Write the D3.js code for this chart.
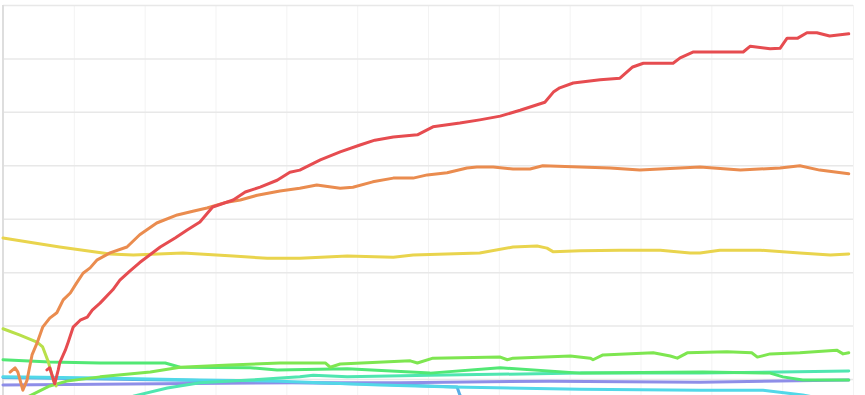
<!DOCTYPE html>
<html>
<head>
<meta charset="UTF-8">
<title>lines</title>
<script src="https://cdn.jsdelivr.net/npm/d3@7"></script>
<style>
  html, body { margin: 0; padding: 0; background: #fff; }
  svg { display: block; }
</style>
</head>
<body>
<svg width="865" height="395"></svg>
<script>
// series values, [t, v]
var red = [[6.2,1.7],[6.6,2.1],[7.3,-0.9],[7.8,1.7],[8.0,3.0],[8.8,5.4],[9.2,6.9],[9.9,9.7],[10.9,11.0],[11.9,11.6],[12.6,12.9],[13.7,14.2],[15.5,16.7],[16.5,18.5],[17.9,20.2],[19.3,21.8],[20.8,23.3],[22.2,24.7],[24.3,26.4],[26.0,27.9],[27.8,29.4],[29.6,32.2],[32.5,33.5],[34.2,35.0],[36.3,35.9],[38.7,37.2],[40.5,38.7],[41.9,39.1],[44.8,41.0],[47.6,42.5],[50.4,43.8],[52.5,44.7],[55.1,45.3],[58.5,45.7],[60.7,47.2],[64.5,47.9],[67.3,48.5],[70.2,49.2],[73.0,50.3],[76.5,51.8],[77.7,53.7],[78.6,54.5],[80.5,55.4],[84.3,56.0],[87.1,56.3],[88.9,58.4],[90.4,59.1],[94.6,59.1],[95.6,60.1],[97.4,61.2],[104.5,61.2],[105.5,62.3],[108.3,61.8],[109.7,61.9],[110.7,63.8],[112.2,63.8],[113.5,64.8],[114.9,64.8],[116.7,64.2],[119.4,64.6]];
var orange = [[1.0,1.3],[1.7,2.1],[2.1,1.3],[2.8,-2.1],[3.4,-0.2],[4.1,4.5],[4.8,6.7],[5.6,9.7],[6.6,11.4],[7.6,12.4],[8.5,14.8],[9.5,16.1],[10.4,18.0],[11.3,19.8],[12.3,20.8],[13.3,22.3],[15.1,23.6],[17.5,24.7],[19.3,27.0],[21.7,29.2],[24.6,30.7],[26.8,31.4],[28.8,32.0],[31.6,33.1],[33.5,33.5],[35.9,34.4],[39.1,35.2],[41.9,35.7],[44.3,36.3],[47.6,35.7],[49.4,35.9],[52.2,36.9],[55.1,37.6],[57.9,37.6],[59.9,38.2],[62.7,38.6],[65.5,39.5],[66.9,39.7],[69.2,39.7],[72.0,39.3],[74.4,39.3],[76.2,39.9],[81.5,39.7],[85.7,39.5],[89.9,39.1],[95.6,39.5],[98.4,39.7],[104.1,39.1],[109.7,39.5],[112.5,39.9],[115.3,39.1],[119.4,38.4]];
var yellow = [[0,26.4],[4.2,25.5],[8.0,24.7],[11.3,24.1],[15.1,23.4],[18.4,23.2],[25.4,23.6],[32.5,23.0],[37.3,22.6],[41.9,22.6],[48.6,23.0],[55.1,22.8],[57.9,23.2],[67.3,23.6],[72.0,24.7],[75.4,24.9],[76.8,24.5],[77.7,23.8],[81.5,24.0],[87.1,24.1],[92.8,24.1],[97.0,23.6],[98.4,23.6],[101.2,24.1],[106.9,24.1],[112.5,23.6],[116.8,23.2],[119.4,23.4]];
var yellowGreen = [[0,9.4],[2.4,8.2],[4.8,6.9],[5.6,6.0],[6.4,3.2],[7.1,-0.2],[7.5,-1.3]];
var lime = [[3.4,-3.4],[6.6,-1.3],[9.0,-0.4],[13.7,0.4],[20.8,1.3],[25.0,2.2],[32.0,2.6],[39.1,3.0],[45.5,3.0],[46.2,2.2],[47.6,2.8],[57.5,3.4],[58.5,3.0],[60.7,3.9],[70.2,4.1],[71.2,3.6],[72.0,3.9],[80.1,4.3],[82.9,3.9],[83.3,3.6],[84.7,4.5],[91.8,4.9],[94.2,4.3],[95.2,3.9],[96.6,4.9],[102.2,5.1],[105.7,4.9],[106.5,4.1],[108.3,4.7],[112.5,4.9],[117.7,5.4],[118.6,4.7],[119.4,4.9]];
var green = [[0,3.6],[6.6,3.2],[13.7,3.0],[22.9,3.0],[25.0,2.2],[34.9,2.1],[38.7,1.7],[48.6,1.9],[60.3,1.1],[70.2,2.1],[81.5,1.1],[98.8,1.3],[108.3,1.1],[110.1,0.4],[112.9,-0.2],[119.4,-0.2]];
var teal = [[18.4,-3.2],[23.2,-1.7],[27.8,-0.7],[34.9,-0.2],[41.9,0.4],[43.8,0.7],[48.6,0.4],[60.3,0.7],[81.5,1.1],[98.4,1.1],[109.7,1.3],[119.4,1.5]];
var cyan = [[0,0.4],[13.7,0.2],[27.8,-0.2],[39.1,-0.4],[53.2,-1.1],[63.5,-1.5],[81.5,-1.9],[98.4,-2.1],[107.3,-2.1],[112.9,-3.0],[118.2,-4.3]];
var purple = [[0,-1.1],[41.9,-0.7],[56.1,-0.7],[77.2,-0.4],[98.4,-0.6],[119.4,-0.2]];
var blue = [[0,0.3],[27.8,-0.3],[53.2,-1.0],[64.1,-1.5],[64.5,-3.0],[65.0,-4.3]];

// drawn bottom first
var seriesList = [blue, purple, cyan, teal, green, lime, yellowGreen, yellow, orange, red];
var colors = ["#5aaee6", "#8e8ee8", "#52d8e8", "#4fe6b0", "#52e874", "#7ee650", "#b9e04a", "#e9d44d", "#ea8c4f", "#e64c50"];

var xTicks = d3.range(0, 121, 10);
var yTicks = d3.range(0, 71, 10);

var svg = d3.select("svg");
var width = +svg.attr("width");
var height = +svg.attr("height");

var x = d3.scaleLinear().domain([0, 120]).range([3, 853]);
var y = d3.scaleLinear().domain([0, 70]).range([379, 5]);

// vertical grid
svg.append("g")
  .attr("transform", "translate(0," + 5 + ")")
  .call(d3.axisBottom(x).tickValues(xTicks).tickSize(height - 5).tickFormat(""))
  .call(function(g){ g.select(".domain").remove(); })
  .selectAll("line").attr("stroke", "#f3f3f3").attr("stroke-width", 1);

// horizontal grid
svg.append("g")
  .attr("transform", "translate(" + 3 + ",0)")
  .call(d3.axisLeft(y).tickValues(yTicks).tickSize(-(853 - 3)).tickFormat(""))
  .call(function(g){ g.select(".domain").remove(); })
  .selectAll("line").attr("stroke", "#e8e8e8").attr("stroke-width", 1.5);

// left axis line
svg.append("line")
  .attr("x1", x(0)).attr("x2", x(0))
  .attr("y1", y(70)).attr("y2", height)
  .attr("stroke", "#dedede").attr("stroke-width", 2);

var line = d3.line()
  .x(function(d){ return x(d[0]); })
  .y(function(d){ return y(d[1]); });

svg.append("g")
  .selectAll("path")
  .data(seriesList)
  .enter()
  .append("path")
  .attr("d", line)
  .attr("fill", "none")
  .attr("stroke", function(d, i){ return colors[i]; })
  .attr("stroke-width", 3)
  .attr("stroke-linejoin", "round")
  .attr("stroke-linecap", "round");
</script>
</body>
</html>
